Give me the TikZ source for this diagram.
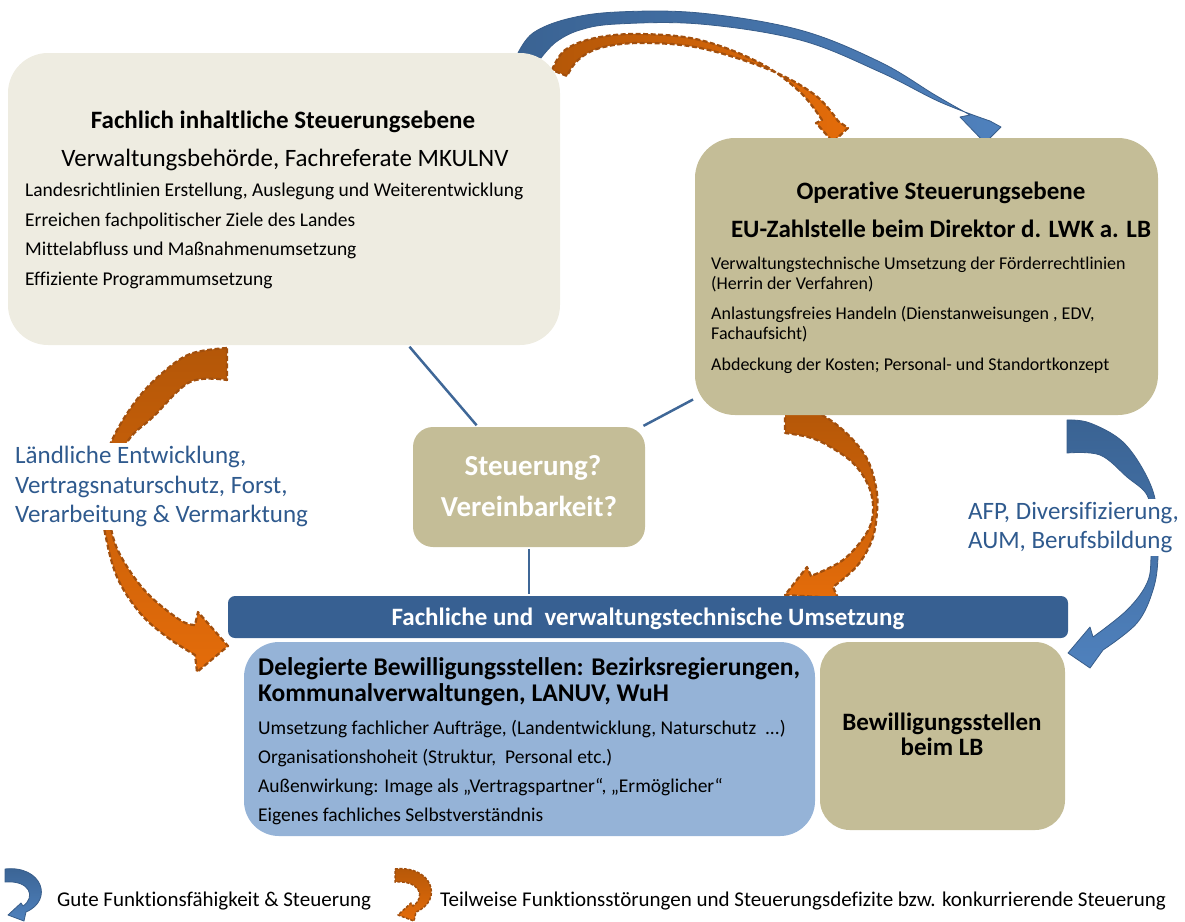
\documentclass[tikz,border=0pt]{standalone}
\usepackage{fontspec}
\setmainfont{Carlito}[Ligatures=NoCommon]
\usetikzlibrary{positioning}

\definecolor{paleback}{HTML}{EEECE1}
\definecolor{tanback}{HTML}{C4BD97}
\definecolor{barblue}{HTML}{376092}
\definecolor{skyback}{HTML}{95B3D7}
\definecolor{labelblue}{HTML}{2F5A8E}
\definecolor{linkblue}{HTML}{3F6797}
\definecolor{orangedark}{HTML}{B45708}
\definecolor{orangelight}{HTML}{E46C0A}
\definecolor{orangeedge}{HTML}{A14F0E}
\definecolor{arrowdark}{HTML}{3A6393}
\definecolor{arrowlight}{HTML}{4F81BD}
\definecolor{arrowedge}{HTML}{385D8A}

\newcommand\bodysize{\fontsize{19.5pt}{23pt}\selectfont}
\newcommand\smallbody{\fontsize{18pt}{21pt}\selectfont}
\newcommand\headsize{\fontsize{25pt}{29pt}\selectfont}
\newcommand\bigsize{\fontsize{25pt}{29.5pt}\selectfont}

\begin{document}
\begin{tikzpicture}[x=1pt,y=-1pt,
  panel/.style={inner sep=0pt,draw=none},
  txt/.style={anchor=base west,inner sep=0pt},
  ctxt/.style={anchor=base,inner sep=0pt},
  link/.style={draw=linkblue,line width=2.5pt,shorten <=2pt,shorten >=2pt},
  goodarrow/.style={draw=arrowedge,line width=0.8pt,line join=round},
  badarrow/.style={draw=orangeedge,line width=2.2pt,line join=round,dash pattern=on 5pt off 2.5pt}]
\useasboundingbox (0,0) rectangle (1185,921);

% curved arrows between the levels
\path[goodarrow,left color=arrowdark,right color=arrowlight]
  plot[smooth,tension=0.6] coordinates {(518,53) (533,33) (567,19) (617,12) (700,13) (800,30) (880,62) (935,95) (970,115)}
  -- (960,117) -- (985,143) -- (1001,127)
  -- plot[smooth,tension=0.6] coordinates {(990,121) (940,102) (880,72) (800,40) (700,24) (617,24) (580,30) (556,42) (541,58)}
  -- cycle;
\path[badarrow,left color=orangedark,right color=orangelight]
  plot[smooth,tension=0.6] coordinates {(552,70) (565,50) (595,38) (640,34) (700,40) (760,63) (800,92) (822,120)}
  -- (816,123) -- (833,142) -- (848,128)
  -- plot[smooth,tension=0.6] coordinates {(838,121) (815,95) (770,70) (700,48) (640,43) (600,48) (578,60) (567,76)}
  -- cycle;
\path[badarrow,top color=orangedark,bottom color=orangelight]
  plot[smooth,tension=0.6] coordinates {(785,409) (815,412) (843,430) (866,457) (876,487) (877,512) (872,540) (857,566) (833,587)}
  -- (838,598) -- (785,595) -- (807,567)
  -- plot[smooth,tension=0.6] coordinates {(811,576) (843,560) (866,534) (873,512) (869,487) (853,463) (827,445) (808,437) (785,433)}
  -- cycle;
\path[badarrow,top color=orangedark,bottom color=orangelight]
  plot[smooth,tension=0.6] coordinates {(227,348) (190,354) (160,375) (135,402) (113,438) (103,470) (101,500) (105,533) (117,577) (140,613) (167,637) (195,655)}
  -- (197,672) -- (228,646) -- (198,612)
  -- plot[smooth,tension=0.6] coordinates {(195,625) (180,620) (147,593) (123,560) (112,533) (109,500) (114,468) (130,438) (153,417) (190,382) (227,380)}
  -- cycle;
\path[goodarrow,top color=arrowdark,bottom color=arrowlight]
  plot[smooth,tension=0.6] coordinates {(1067,420) (1090,423) (1123,442) (1147,477) (1157,510) (1158,557) (1153,590) (1137,623) (1103,650)}
  -- (1090,668) -- (1068,653) -- (1090,627)
  -- plot[smooth,tension=0.6] coordinates {(1093,637) (1127,610) (1147,583) (1151,557) (1150,520) (1147,495) (1127,477) (1100,455) (1067,453)}
  -- cycle;

% boxes
\node[panel,fill=paleback,minimum width=552pt,minimum height=292pt,rounded corners=40pt] (fachlich) at (284,199) {};
\node[panel,fill=tanback,minimum width=463pt,minimum height=277pt,rounded corners=40pt] (operativ) at (926.5,276.5) {};
\node[panel,fill=tanback,minimum width=232pt,minimum height=120pt,rounded corners=20pt] (steuerung) at (529,487) {};
\node[panel,fill=barblue,minimum width=840pt,minimum height=42pt,rounded corners=7pt] (umsetzung) at (648,617) {};
\node[panel,fill=skyback,minimum width=571pt,minimum height=194pt,rounded corners=35pt] (delegiert) at (529.5,739) {};
\node[panel,fill=tanback,minimum width=245pt,minimum height=188pt,rounded corners=30pt] (lb) at (942.5,736) {};

\draw[link] (fachlich) -- (steuerung);
\draw[link] (steuerung) -- (operativ);
\draw[link] (steuerung.south) -- (steuerung.south |- umsetzung.north);

% text of the upper left box
\node[ctxt,font=\headsize\bfseries] (fachtitel) at (283,128) {Fachlich inhaltliche Steuerungsebene};
\node[ctxt,font=\headsize] (fachsub) at (285,166) {Verwaltungsbehörde, Fachreferate MKULNV};
\node[txt,font=\bodysize] (fach1) at (25,196) {Landesrichtlinien Erstellung, Auslegung und Weiterentwicklung};
\node[txt,font=\bodysize] (fach2) at (25,226) {Erreichen fachpolitischer Ziele des Landes};
\node[txt,font=\bodysize] (fach3) at (25,255) {Mittelabfluss und Maßnahmenumsetzung};
\node[txt,font=\bodysize] (fach4) at (25,285) {Effiziente Programmumsetzung};

% text of the upper right box
\node[ctxt,font=\headsize\bfseries] (optitel) at (941,199) {Operative Steuerungsebene};
\node[ctxt,font=\headsize\bfseries] (opsub) at (941,237) {EU-Zahlstelle beim Direktor d. LWK a. LB};
\node[txt,font=\smallbody] (op1) at (711,269) {Verwaltungstechnische Umsetzung der Förderrechtlinien};
\node[txt,font=\smallbody] (op2) at (711,289) {(Herrin der Verfahren)};
\node[txt,font=\smallbody] (op3) at (711,319) {Anlastungsfreies Handeln (Dienstanweisungen , EDV,};
\node[txt,font=\smallbody] (op4) at (711,339) {Fachaufsicht)};
\node[txt,font=\smallbody] (op5) at (711,370) {Abdeckung der Kosten; Personal- und Standortkonzept};

\node[ctxt,font=\fontsize{29pt}{34pt}\selectfont\bfseries,text=white] (frage1) at (533,475) {Steuerung?};
\node[ctxt,font=\fontsize{29pt}{34pt}\selectfont\bfseries,text=white] (frage2) at (529,516) {Vereinbarkeit?};

\node[ctxt,font=\headsize\bfseries,text=white] (bartext) at (648,625) {Fachliche und~ verwaltungstechnische Umsetzung};

% text of the lower boxes
\node[txt,font=\fontsize{25.5pt}{29pt}\selectfont\bfseries] (deltitel1) at (258,675) {Delegierte Bewilligungsstellen: Bezirksregierungen,};
\node[txt,font=\fontsize{25.5pt}{29pt}\selectfont\bfseries] (deltitel2) at (258,701) {Kommunalverwaltungen, LANUV, WuH};
\node[txt,font=\bodysize] (del1) at (258,734) {Umsetzung fachlicher Aufträge, (Landentwicklung, Naturschutz~ ...)};
\node[txt,font=\bodysize] (del2) at (258,763) {Organisationshoheit (Struktur,~ Personal etc.)};
\node[txt,font=\bodysize] (del3) at (258,792) {Außenwirkung: Image als „Vertragspartner“, „Ermöglicher“};
\node[txt,font=\bodysize] (del4) at (258,821) {Eigenes fachliches Selbstverständnis};
\node[ctxt,font=\headsize\bfseries] (lb1) at (942,730) {Bewilligungsstellen};
\node[ctxt,font=\headsize\bfseries] (lb2) at (942,755) {beim LB};

% labels on the side arrows
\node[anchor=north west,align=left,fill=white,inner sep=3pt,text=labelblue,font=\bigsize] (laendlich) at (12,443)
  {Ländliche Entwicklung,\\Vertragsnaturschutz, Forst,\\Verarbeitung \& Vermarktung};
\node[anchor=north west,align=left,fill=white,inner sep=3pt,text=labelblue,font=\bigsize] (afp) at (965,499)
  {AFP, Diversifizierung,\\AUM, Berufsbildung};

% legend
\path[goodarrow,top color=arrowdark,bottom color=arrowlight]
  (5,869) .. controls (42,865) and (54,900) .. (26,912) -- (24,921) -- (8,915) -- (21,903) -- (23,906)
  .. controls (36,897) and (30,880) .. (5,882) -- cycle;
\node[txt,font=\fontsize{21pt}{25pt}\selectfont] (gut) at (57,906) {Gute Funktionsfähigkeit \& Steuerung};
\path[badarrow,line width=1.5pt,dash pattern=on 3pt off 1.5pt,shift={(390,0)},top color=orangedark,bottom color=orangelight]
  (5,869) .. controls (42,865) and (54,900) .. (26,912) -- (24,921) -- (8,915) -- (21,903) -- (23,906)
  .. controls (36,897) and (30,880) .. (5,882) -- cycle;
\node[txt,font=\fontsize{21pt}{25pt}\selectfont] (teilweise) at (440,906) {Teilweise Funktionsstörungen und Steuerungsdefizite bzw. konkurrierende Steuerung};
\end{tikzpicture}
\end{document}
